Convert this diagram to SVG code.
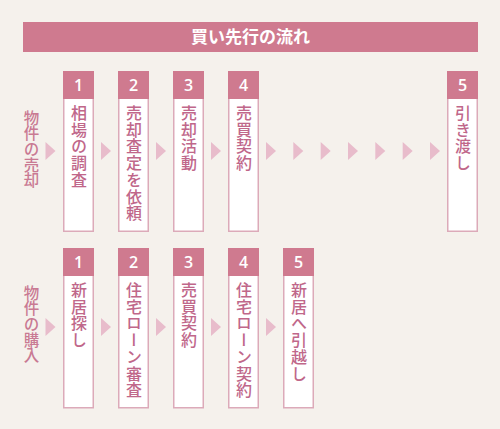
<svg xmlns="http://www.w3.org/2000/svg" width="500" height="429" viewBox="0 0 500 429">
<style>
.bg{fill:#f5f1ec}
.bar{fill:#cf7a8f}
.box{fill:#ffffff;stroke:#dcaab9;stroke-width:1.5}
.hd{fill:#cf7a8f}
.num{font-family:"Open Sans","Liberation Sans",sans-serif;font-weight:600;font-size:16px;fill:#ffffff;text-anchor:middle}
.vt{font-family:"Noto Sans CJK JP","Noto Sans",sans-serif;font-size:16px;font-weight:500;fill:#c0678a;writing-mode:vertical-rl;letter-spacing:0.7px}
.lbl{font-family:"Noto Sans CJK JP","Noto Sans",sans-serif;font-size:15.5px;font-weight:500;fill:#c97a93;writing-mode:vertical-rl;letter-spacing:0.2px}
.title{font-family:"Noto Sans CJK JP","Noto Sans",sans-serif;font-size:17px;font-weight:700;fill:#ffffff;text-anchor:middle}
.arr{fill:#e8bccb}
</style>
<defs>
<polygon id="tri" points="0,-9 10,0 0,9"/>
</defs>
<rect class="bg" x="0" y="0" width="500" height="429"/>
<g id="title">
<rect class="bar" x="23" y="22" width="455" height="30"/>
<text class="title" x="250.5" y="43">買い先行の流れ</text>
</g>
<g id="label-sell"><text class="lbl" x="31.5" y="110">物件の売却</text></g>
<g id="label-buy"><text class="lbl" x="31.5" y="285">物件の購入</text></g>

<g id="sell-1"><rect class="box" x="63.75" y="71.75" width="29.5" height="159.5"/><rect class="hd" x="63" y="71" width="31" height="28"/><text class="num" x="78.5" y="91">1</text><text class="vt" x="79" y="105">相場の調査</text></g>
<g id="sell-2"><rect class="box" x="118.75" y="71.75" width="29.5" height="159.5"/><rect class="hd" x="118" y="71" width="31" height="28"/><text class="num" x="133.5" y="91">2</text><text class="vt" x="134" y="105">売却査定を依頼</text></g>
<g id="sell-3"><rect class="box" x="173.75" y="71.75" width="29.5" height="159.5"/><rect class="hd" x="173" y="71" width="31" height="28"/><text class="num" x="188.5" y="91">3</text><text class="vt" x="189" y="105">売却活動</text></g>
<g id="sell-4"><rect class="box" x="228.75" y="71.75" width="29.5" height="159.5"/><rect class="hd" x="228" y="71" width="31" height="28"/><text class="num" x="243.5" y="91">4</text><text class="vt" x="244" y="105">売買契約</text></g>
<g id="sell-5"><rect class="box" x="447.75" y="71.75" width="29.5" height="159.5"/><rect class="hd" x="447" y="71" width="31" height="28"/><text class="num" x="462.5" y="91">5</text><text class="vt" x="463" y="105">引き渡し</text></g>

<g id="buy-1"><rect class="box" x="63.75" y="248.75" width="29.5" height="159"/><rect class="hd" x="63" y="248" width="31" height="28"/><text class="num" x="78.5" y="268">1</text><text class="vt" x="79" y="282">新居探し</text></g>
<g id="buy-2"><rect class="box" x="118.75" y="248.75" width="29.5" height="159"/><rect class="hd" x="118" y="248" width="31" height="28"/><text class="num" x="133.5" y="268">2</text><text class="vt" x="134" y="282">住宅ローン審査</text></g>
<g id="buy-3"><rect class="box" x="173.75" y="248.75" width="29.5" height="159"/><rect class="hd" x="173" y="248" width="31" height="28"/><text class="num" x="188.5" y="268">3</text><text class="vt" x="189" y="282">売買契約</text></g>
<g id="buy-4"><rect class="box" x="228.75" y="248.75" width="29.5" height="159"/><rect class="hd" x="228" y="248" width="31" height="28"/><text class="num" x="243.5" y="268">4</text><text class="vt" x="244" y="282">住宅ローン契約</text></g>
<g id="buy-5"><rect class="box" x="283.75" y="248.75" width="29.5" height="159"/><rect class="hd" x="283" y="248" width="31" height="28"/><text class="num" x="298.5" y="268">5</text><text class="vt" x="299" y="282">新居へ引越し</text></g>

<g id="connectors" class="arr">
<use href="#tri" x="45.5" y="151"/>
<use href="#tri" x="101" y="151"/>
<use href="#tri" x="156" y="151"/>
<use href="#tri" x="211" y="151"/>
<use href="#tri" x="266" y="151"/>
<use href="#tri" x="293.3" y="151"/>
<use href="#tri" x="320.7" y="151"/>
<use href="#tri" x="348" y="151"/>
<use href="#tri" x="375.3" y="151"/>
<use href="#tri" x="402.7" y="151"/>
<use href="#tri" x="430" y="151"/>
<use href="#tri" x="45.5" y="327"/>
<use href="#tri" x="101" y="327"/>
<use href="#tri" x="156" y="327"/>
<use href="#tri" x="211" y="327"/>
<use href="#tri" x="266" y="327"/>
</g>
</svg>
